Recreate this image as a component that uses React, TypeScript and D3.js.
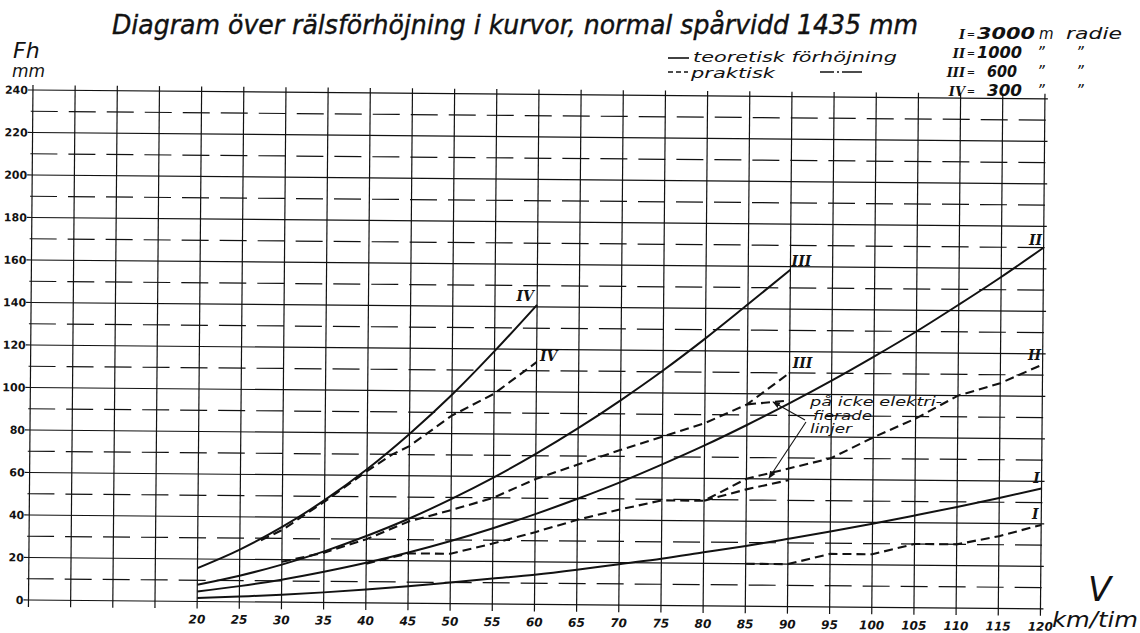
import React from "react";
import * as d3 from "d3";

// ---- data ----
const GRID_SPEEDS = [0, 5, 10, 15, 20, 25, 30, 35, 40, 45, 50, 55, 60, 65, 70, 75, 80, 85, 90, 95, 100, 105, 110, 115, 120];
const X_TICKS = [20, 25, 30, 35, 40, 45, 50, 55, 60, 65, 70, 75, 80, 85, 90, 95, 100, 105, 110, 115, 120];
const Y_TICKS = [0, 20, 40, 60, 80, 100, 120, 140, 160, 180, 200, 220, 240];
const Y_DASHED = [10, 30, 50, 70, 90, 110, 130, 150, 170, 190, 210, 230];

// theoretical (solid)
const V_I = [20, 25, 30, 35, 40, 45, 50, 55, 60, 65, 70, 75, 80, 85, 90, 95, 100, 105, 110, 115, 120];
const TEO_I = [1.6, 2.5, 3.5, 4.8, 6.3, 8, 10, 12, 14, 16.5, 19.3, 22, 25.2, 28.4, 31.9, 35.5, 39.3, 43.4, 47.6, 52, 56.6];
const V_II = [20, 25, 30, 35, 40, 45, 50, 55, 60, 65, 70, 75, 80, 85, 90, 95, 100, 105, 110, 115, 120];
const TEO_II = [4.7, 7.4, 10.6, 14.5, 18.9, 23.9, 29.5, 35.7, 42.5, 49.9, 57.8, 66.4, 75.5, 85.3, 95.6, 106.5, 118, 130, 142.8, 156, 170];
const V_III = [20, 25, 30, 35, 40, 45, 50, 55, 60, 65, 70, 75, 80, 85, 90];
const TEO_III = [7.9, 12.3, 17.7, 24.1, 31.5, 39.8, 49.2, 59.5, 70.8, 83.1, 96.4, 110.6, 125.9, 142.1, 158.5];
const V_IV = [20, 25, 30, 35, 40, 45, 50, 55, 60];
const TEO_IV = [15.7, 24.6, 35.4, 48.2, 62.9, 79.7, 98.3, 119, 141];

// practical (dashed)
const PV_IV = [27.5, 30, 35, 40, 43, 45, 50, 55, 60];
const PRAK_IV = [29, 34, 47.5, 62, 70, 74, 88.5, 99, 114];
const PV_III = [30, 35, 40, 45, 50, 55, 60, 65, 70, 75, 80, 85, 90];
const PRAK_III = [19, 23.5, 30, 38.5, 44, 50, 59, 66, 73, 79.5, 86, 95, 110];
const PV_III_NE = [85, 90];
const PRAK_III_NE = [95, 97];
const PV_II = [40, 45, 50, 55, 60, 65, 70, 75, 80, 85, 90, 95, 100, 105, 110, 115, 120];
const PRAK_II = [18.5, 23.5, 23.5, 28.5, 34, 40, 45, 49.5, 49.5, 60, 65, 70, 80, 89, 100, 106, 115];
const PV_II_NE = [80, 85, 90];
const PRAK_II_NE = [49.5, 55, 59.5];
const PV_I = [85, 90, 95, 100, 105, 110, 115, 120];
const PRAK_I = [20, 20, 25, 25, 30, 30, 34, 39.5];

const LEGEND_NUMERALS = ["I", "II", "III", "IV"];
const LEGEND_VALUES = ["3000", "1000", "600", "300"];
const LEGEND_UNITS = ["m", "\u201D", "\u201D", "\u201D"];
const LEGEND_WORDS = ["radie", "\u201D", "\u201D", "\u201D"];

const ANGLE = 0.5;
const OX = 28.5;
const OY = 600;
const INK = "#121212";
const HAND = "'DejaVu Sans', 'Liberation Sans', sans-serif";
const SERIF = "'DejaVu Serif', 'Liberation Serif', serif";

type P = [number, number];
const zip = (vs: number[], hs: number[]): P[] => vs.map((v, i) => [v, hs[i]] as P);

export default function App() {
  const x = d3.scaleLinear().domain([0, 120]).range([OX, 1040.5]);
  const y = d3.scaleLinear().domain([0, 240]).range([OY, 90]);
  const straight = d3.line<P>().x((d) => x(d[0])).y((d) => y(d[1]));
  const smooth = d3
    .line<P>()
    .x((d) => x(d[0]))
    .y((d) => y(d[1]))
    .curve(d3.curveMonotoneX);

  const rad = (ANGLE * Math.PI) / 180;
  const rot = (px: number, py: number): P => {
    const dx = px - OX;
    const dy = py - OY;
    return [OX + dx * Math.cos(rad) - dy * Math.sin(rad), OY + dx * Math.sin(rad) + dy * Math.cos(rad)];
  };
  const endOf = (vs: number[], hs: number[]): P => rot(x(vs[vs.length - 1]), y(hs[hs.length - 1]));

  const solids = [zip(V_I, TEO_I), zip(V_II, TEO_II), zip(V_III, TEO_III), zip(V_IV, TEO_IV)];
  const dashes = [
    zip(PV_IV, PRAK_IV),
    zip(PV_III, PRAK_III),
    zip(PV_III_NE, PRAK_III_NE),
    zip(PV_II, PRAK_II),
    zip(PV_II_NE, PRAK_II_NE),
    zip(PV_I, PRAK_I),
  ];

  const curveLabels = [
    { t: "IV", p: endOf(V_IV, TEO_IV), dx: -12, dy: -9 },
    { t: "IV", p: endOf(PV_IV, PRAK_IV), dx: 12, dy: -6 },
    { t: "III", p: endOf(V_III, TEO_III), dx: 11, dy: -9 },
    { t: "III", p: endOf(PV_III, PRAK_III), dx: 13, dy: -10 },
    { t: "II", p: endOf(V_II, TEO_II), dx: -8, dy: -8 },
    { t: "II", p: endOf(PV_II, PRAK_II), dx: -8, dy: -9 },
    { t: "I", p: endOf(V_I, TEO_I), dx: -5, dy: -11 },
    { t: "I", p: endOf(PV_I, PRAK_I), dx: -6, dy: -11 },
  ];

  const top = y(240) - 5;
  const bottom = y(0) + 7;

  const valueX = [977, 977, 987, 987];
  const valueW = [58, 45, 30, 35];

  return (
    <svg
      width={1140}
      height={633}
      viewBox="0 0 1140 633"
      style={{ position: "absolute", left: 0, top: 0, background: "#fff" }}
    >
      <rect x={0} y={0} width={1140} height={633} fill="#fff" />
      <defs>
        <marker id="arr" viewBox="0 0 10 10" refX="9" refY="5" markerWidth="7" markerHeight="7" orient="auto">
          <path d="M0,1 L10,5 L0,9 z" fill={INK} />
        </marker>
      </defs>

      {/* title */}
      <text
        x={112}
        y={34}
        fontFamily={HAND}
        fontStyle="italic"
        fontSize={26}
        fill={INK}
        stroke={INK}
        strokeWidth={0.4}
        textLength={806}
        lengthAdjust="spacingAndGlyphs"
      >
        Diagram över rälsförhöjning i kurvor, normal spårvidd 1435 mm
      </text>

      {/* line-style legend */}
      <line x1={668} x2={689} y1={58} y2={58} stroke={INK} strokeWidth={1.6} />
      <text x={693} y={62} fontFamily={HAND} fontStyle="italic" fontSize={14} fill={INK} textLength={204} lengthAdjust="spacingAndGlyphs">
        teoretisk förhöjning
      </text>
      <line x1={668} x2={688} y1={72} y2={72} stroke={INK} strokeWidth={1.6} strokeDasharray="5 3" />
      <text x={691} y={78} fontFamily={HAND} fontStyle="italic" fontSize={14} fill={INK} textLength={84} lengthAdjust="spacingAndGlyphs">
        praktisk
      </text>
      <line x1={820} x2={862} y1={72} y2={72} stroke={INK} strokeWidth={1.6} strokeDasharray="14 3 2 3 20" />

      {/* radius legend */}
      {LEGEND_NUMERALS.map((num, i) => {
        const by = 39 + i * 19;
        return (
          <g key={num} fill={INK}>
            <text x={965} y={by} fontFamily={SERIF} fontStyle="italic" fontWeight="bold" fontSize={13} textAnchor="end">
              {num}
            </text>
            <text x={971} y={by - 1} fontFamily={HAND} fontSize={10} textAnchor="middle">
              =
            </text>
            <text
              x={valueX[i]}
              y={by}
              fontFamily={HAND}
              fontStyle="italic"
              fontWeight="bold"
              fontSize={15}
              textLength={valueW[i]}
              lengthAdjust="spacingAndGlyphs"
            >
              {LEGEND_VALUES[i]}
            </text>
            <text x={i === 0 ? 1039 : 1037} y={by} fontFamily={HAND} fontStyle="italic" fontSize={15}>
              {LEGEND_UNITS[i]}
            </text>
            {i === 0 ? (
              <text x={1066} y={by} fontFamily={HAND} fontStyle="italic" fontSize={15} textLength={56} lengthAdjust="spacingAndGlyphs">
                {LEGEND_WORDS[i]}
              </text>
            ) : (
              <text x={1076} y={by} fontFamily={HAND} fontStyle="italic" fontSize={15}>
                {LEGEND_WORDS[i]}
              </text>
            )}
          </g>
        );
      })}

      {/* axis captions */}
      <text x={13} y={58} fontFamily={HAND} fontStyle="italic" fontSize={22} fill={INK}>
        Fh
      </text>
      <text x={12} y={77} fontFamily={HAND} fontStyle="italic" fontSize={17} fill={INK}>
        mm
      </text>
      <text x={1088} y={601} fontFamily={HAND} fontStyle="italic" fontSize={34} fill={INK}>
        V
      </text>
      <text x={1052} y={627} fontFamily={HAND} fontStyle="italic" fontSize={21} fill={INK} textLength={86} lengthAdjust="spacingAndGlyphs">
        km/tim
      </text>

      {/* chart frame, slightly rotated like the scanned drawing */}
      <g transform={`rotate(${ANGLE}, ${OX}, ${OY})`}>
        {Y_TICKS.map((v) => (
          <line key={"h" + v} x1={x(0)} x2={x(120) + 3} y1={y(v)} y2={y(v)} stroke={INK} strokeWidth={1.2} />
        ))}
        {Y_DASHED.map((v) => (
          <line
            key={"d" + v}
            x1={x(0) - 2}
            x2={x(120) + 4}
            y1={y(v)}
            y2={y(v)}
            stroke={INK}
            strokeWidth={1.2}
            strokeDasharray="27 11"
          />
        ))}
        {GRID_SPEEDS.map((v) => (
          <line key={"v" + v} x1={x(v)} x2={x(v)} y1={top} y2={bottom} stroke={INK} strokeWidth={1.2} />
        ))}
        {Y_TICKS.map((v) => (
          <g key={"yt" + v}>
            <line x1={x(0) - 5} x2={x(0)} y1={y(v)} y2={y(v)} stroke={INK} strokeWidth={1.2} />
            <text
              x={x(0) - 5}
              y={y(v) + 4}
              textAnchor="end"
              fontFamily={HAND}
              fontWeight="bold"
              fontSize={11}
              fill={INK}
            >
              {v}
            </text>
          </g>
        ))}
        {X_TICKS.map((v) => (
          <text
            key={"xt" + v}
            x={x(v)}
            y={y(0) + 22}
            textAnchor="middle"
            fontFamily={HAND}
            fontStyle="italic"
            fontWeight="bold"
            fontSize={12}
            fill={INK}
          >
            {v}
          </text>
        ))}

        {solids.map((s, i) => (
          <path key={"s" + i} d={smooth(s) || ""} fill="none" stroke={INK} strokeWidth={2} />
        ))}
        {dashes.map((s, i) => (
          <path
            key={"p" + i}
            d={straight(s) || ""}
            fill="none"
            stroke={INK}
            strokeWidth={2.1}
            strokeDasharray="9 5"
          />
        ))}
      </g>

      {curveLabels.map((l, i) => (
        <text
          key={"cl" + i}
          x={l.p[0] + l.dx}
          y={l.p[1] + l.dy + 5}
          textAnchor="middle"
          fontFamily={SERIF}
          fontStyle="italic"
          fontWeight="bold"
          fontSize={14}
          fill={INK}
        >
          {l.t}
        </text>
      ))}

      {/* annotation for non-electrified lines */}
      <g fill={INK} fontFamily={HAND} fontStyle="italic" fontSize={12}>
        <text x={810} y={406} textLength={132} lengthAdjust="spacingAndGlyphs">
          på icke elektri-
        </text>
        <text x={813} y={420} textLength={59} lengthAdjust="spacingAndGlyphs">
          fierade
        </text>
        <text x={810} y={433} textLength={42} lengthAdjust="spacingAndGlyphs">
          linjer
        </text>
      </g>
      <line x1={805} y1={420} x2={773} y2={402} stroke={INK} strokeWidth={1.1} markerEnd="url(#arr)" />
      <line x1={806} y1={422} x2={769} y2={478} stroke={INK} strokeWidth={1.1} markerEnd="url(#arr)" />
    </svg>
  );
}
